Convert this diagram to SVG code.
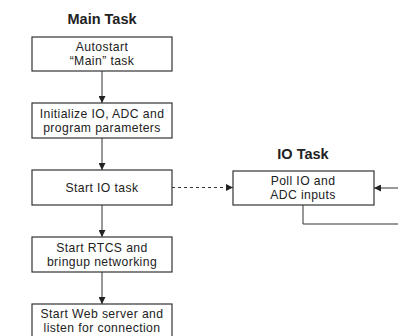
<svg xmlns="http://www.w3.org/2000/svg" width="398" height="336" viewBox="0 0 398 336">
<style>
text{font-family:"Liberation Sans",Arial,sans-serif;font-size:12.2px;fill:#222;text-anchor:middle;letter-spacing:0.4px}
.t{font-weight:bold;font-size:14.5px;letter-spacing:0}
rect{fill:#fff;stroke:#333;stroke-width:1.2}
.c{fill:none;stroke:#333;stroke-width:1}
</style>
<defs>
<marker id="a" viewBox="0 0 8 8" refX="8" refY="4" markerWidth="7" markerHeight="7" orient="auto" markerUnits="userSpaceOnUse"><path d="M0,0L8,4L0,8z" fill="#222"/></marker>
</defs>
<text class="t" x="102" y="24">Main Task</text>
<text class="t" x="303" y="159">IO Task</text>
<g id="connectors">
<line class="c" x1="102" y1="71" x2="102" y2="103" marker-end="url(#a)"/>
<line class="c" x1="102" y1="138" x2="102" y2="170" marker-end="url(#a)"/>
<line class="c" x1="102" y1="205" x2="102" y2="237" marker-end="url(#a)"/>
<line class="c" x1="102" y1="272" x2="102" y2="304" marker-end="url(#a)"/>
<line class="c" x1="172" y1="187.5" x2="233" y2="187.5" stroke-dasharray="3,3" marker-end="url(#a)"/>
<line class="c" x1="398" y1="188" x2="374" y2="188" marker-end="url(#a)"/>
<polyline class="c" points="303,205 303,224 398,224"/>
</g>
<g id="n1"><rect x="32" y="37" width="140" height="34"/><text x="102" y="51">Autostart</text><text x="102" y="65">“Main” task</text></g>
<g id="n2"><rect x="32" y="103" width="140" height="35"/><text x="102" y="118">Initialize IO, ADC and</text><text x="102" y="132">program parameters</text></g>
<g id="n3"><rect x="32" y="170" width="140" height="35"/><text x="102" y="192">Start IO task</text></g>
<g id="n4"><rect x="32" y="237" width="140" height="35"/><text x="102" y="252">Start RTCS and</text><text x="102" y="266">bringup networking</text></g>
<g id="n5"><rect x="32" y="304" width="140" height="35"/><text x="102" y="318">Start Web server and</text><text x="102" y="332">listen for connection</text></g>
<g id="io"><rect x="233" y="171" width="141" height="34"/><text x="303" y="185">Poll IO and</text><text x="303" y="199">ADC inputs</text></g>
</svg>
